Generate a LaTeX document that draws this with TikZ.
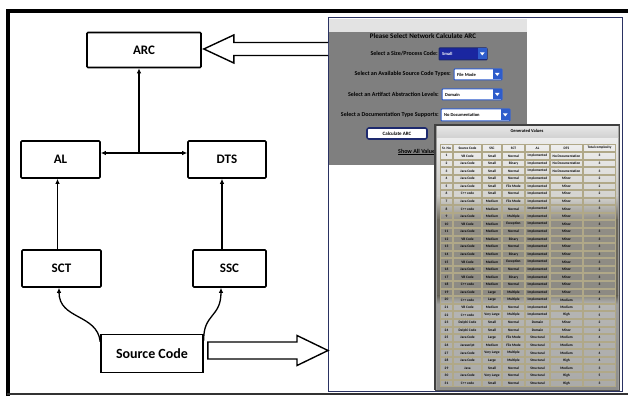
\documentclass[tikz,border=0pt]{standalone}
\usepackage{fontspec}
\setmainfont{Carlito}
\usetikzlibrary{calc,arrows.meta}

\definecolor{stripgray}{HTML}{E3E3E3}
\definecolor{formgray}{HTML}{7F7F7F}
\definecolor{navy}{HTML}{1E2A6E}
\definecolor{selblue}{HTML}{1A26A0}
\definecolor{btnblue}{HTML}{2E5CCB}
\definecolor{celledge}{HTML}{B0A888}
\definecolor{paneledge}{HTML}{2A3262}
\definecolor{tablight}{HTML}{EDEDED}
\definecolor{tabpale}{HTML}{C6C5C0}
\definecolor{tabdark}{HTML}{6D695E}
\definecolor{tabdarker}{HTML}{67645A}
\definecolor{tabmid}{HTML}{9E9E9C}
\definecolor{tablow}{HTML}{8E8E8C}

\tikzset{
  blk/.style={draw, line width=1.6pt, rounded corners=1pt, inner sep=0pt,
    font=\bfseries\fontsize{13}{13}\selectfont},
  conn/.style={line width=1.3pt, -{Latex[length=5pt,width=4.5pt]}},
  hollow/.style={draw, line width=1.4pt, fill=white, line join=miter},
  formtxt/.style={font=\bfseries\fontsize{6}{6}\selectfont, inner sep=0pt},
  dropbox/.style={draw=btnblue, line width=1pt, fill=white, rounded corners=0.8pt},
  celltxt/.style={font=\bfseries\fontsize{3.5}{3.6}\selectfont, inner sep=0pt},
  cellbox/.style={draw=celledge, line width=0.6pt, fill=white, fill opacity=0.25}
}

\begin{document}
\begin{tikzpicture}[x=1pt,y=1pt]
\useasboundingbox (0,0) rectangle (628,396);

% outer frame
\draw[line width=4pt] (7.5,0) -- (7.5,384.5) -- (628,384.5);
\draw[line width=1.6pt, black!80] (7,2) -- (628,2);

% ---------------- model blocks ----------------
\node[blk, minimum width=114pt, minimum height=35pt] (arc) at (144,346) {ARC};
\node[blk, minimum width=79pt, minimum height=37pt] (al) at (60.5,236.5) {AL};
\node[blk, minimum width=78pt, minimum height=37pt] (dts) at (227,236.5) {DTS};
\node[blk, minimum width=79pt, minimum height=37pt] (sct) at (61.5,127.5) {SCT};
\node[blk, minimum width=73pt, minimum height=37pt] (ssc) at (229.5,127.5) {SSC};
\node[blk, minimum width=102pt, minimum height=38pt, rounded corners=0pt,
      font=\bfseries\fontsize{14}{14}\selectfont] (src) at (152,42.5) {Source Code};

% connectors
\coordinate (mid) at (139,243);
\draw[line width=1.3pt, {Latex[length=5pt,width=4.5pt]}-{Latex[length=5pt,width=4.5pt]}]
  ([yshift=6.5pt]al.east) -- ([yshift=6.5pt]dts.west);
\draw[conn] (mid) -- (mid |- arc.south);
\draw[conn] ([xshift=-4pt]sct.north) -- ([xshift=-4pt]sct.north |- al.south);
\draw[conn] ([xshift=-7.5pt]ssc.north) -- ([xshift=-7.5pt]ssc.north |- dts.south);
\draw[conn] ([yshift=-8pt]src.north west) .. controls +(-3,28) and +(0,-32) .. ([xshift=-2.5pt]sct.south);
\draw[conn] ([yshift=-7pt]src.north east) .. controls +(-1,27) and +(0,-30) .. ([xshift=-8.5pt]ssc.south);

% ---------------- application window ----------------
\node[draw=paneledge, line width=1.3pt, minimum width=294pt, minimum height=374pt,
      inner sep=0pt, anchor=south west] (panel) at (328,4) {};
\fill[stripgray] (329,364) rectangle (527,377);
\fill[formgray] (329,231) rectangle (527,364);

\node[formtxt, font=\bfseries\fontsize{7}{7}\selectfont] (title) at (423,360) {Please Select Network Calculate ARC};

% form rows
\node[formtxt, anchor=east] (l1) at (438,342) {Select a Size/Process Code:};
\node[formtxt, anchor=east] (l2) at (451,322) {Select an Available Source Code Types:};
\node[formtxt, anchor=east] (l3) at (439,302) {Select an Artifact Abstraction Levels:};
\node[formtxt, anchor=east] (l4) at (439,281) {Select a Documentation Type Supports:};

\draw[dropbox, fill=selblue, draw=navy] (439,336) rectangle (487,348);
\node[formtxt, text=white, anchor=west] at (442,342) {\fontsize{4.5}{5}\selectfont Small};
\draw[dropbox] (454,316) rectangle (502,327);
\node[formtxt, anchor=west] at (457,321.5) {\fontsize{4.5}{5}\selectfont File Mode};
\draw[dropbox] (442,296) rectangle (502,307);
\node[formtxt, anchor=west] at (445,301.5) {\fontsize{4.5}{5}\selectfont Domain};
\draw[dropbox] (441,275) rectangle (510,287);
\node[formtxt, anchor=west] at (444,281) {\fontsize{4.5}{5}\selectfont No Documentation};
% drop-down buttons
\foreach \xa/\ya/\yb in {478/336.5/347.5, 493/316.5/326.5, 493/296.5/306.5, 501/275.5/286.5}{
  \fill[btnblue] (\xa,\ya) rectangle (\xa+8.5,\yb);
  \fill[white] (\xa+2,{(\ya+\yb)/2+1.5}) -- (\xa+6.5,{(\ya+\yb)/2+1.5}) -- (\xa+4.25,{(\ya+\yb)/2-1.5}) -- cycle;
}
\draw[navy, line width=1.6pt, fill=white, rounded corners=2pt] (367,257) rectangle (427,268);
\node[formtxt, font=\bfseries\fontsize{5}{5}\selectfont] at (397,262.5) {Calculate ARC};
\node[formtxt, anchor=west] (show) at (398,244.5) {Show All Values};
\draw[line width=0.6pt] (398,241.5) -- (show.east |- 0,241.5);

% ---------------- result table window ----------------
\fill[tabmid] (435,6) rectangle (620,271);
\shade[top color=tablight, bottom color=tabpale] (437,258) rectangle (618,200);
\shade[top color=tabpale, bottom color=tabdark] (437,200) rectangle (618,176);
\shade[top color=tabdark, bottom color=tabdarker] (437,176) rectangle (618,100);
\shade[top color=tabdarker, bottom color=tabmid] (437,100) rectangle (618,92);
\shade[top color=tabmid, bottom color=tablow] (437,92) rectangle (618,7);
\shade[top color=black!10, bottom color=black!18] (437,258) rectangle (618,270);
\draw[black!75, line width=1.6pt] (435,6) -- (435,271) -- (620,271);
\draw[black!70, line width=1pt] (619.5,271) -- (619.5,6) -- (435,6);
\node[celltxt, font=\bfseries\fontsize{4.5}{5}\selectfont] at (527,265) {Generated Values};

% header row
\foreach \xa/\xb/\txt in {440/453/Sr. No, 453/482/Source Code, 482/502/SSC, 502/525/SCT,
    525/550/AL, 550/583/DTS, 583/616/Total complexity}{
  \draw[cellbox] (\xa+0.5,251.5) rectangle (\xb-0.5,244.5);
  \node[celltxt] at ({(\xa+\xb)/2},248) {\txt};
}

% data rows
\foreach \n/\sc/\ssz/\sctp/\lvl/\doc/\tot [evaluate=\n as \yt using 244-(\n-1)*7.58] in {
  1/VB Code/Small/Normal/Implemented/No Documentation/3,
  2/Java Code/Small/Binary/Implemented/No Documentation/3,
  3/Java Code/Small/Normal/Implemented/No Documentation/3,
  4/Java Code/Small/Normal/Implemented/Minor/2,
  5/Java Code/Small/File Mode/Implemented/Minor/2,
  6/C++ code/Small/Normal/Implemented/Minor/2,
  7/Java Code/Medium/File Mode/Implemented/Minor/3,
  8/C++ code/Medium/Normal/Implemented/Minor/3,
  9/Java Code/Medium/Multiple/Implemented/Minor/3,
  10/VB Code/Medium/Exception/Implemented/Minor/3,
  11/Java Code/Medium/Normal/Implemented/Minor/3,
  12/VB Code/Medium/Binary/Implemented/Minor/3,
  13/Java Code/Medium/Normal/Implemented/Minor/3,
  14/Java Code/Medium/Binary/Implemented/Minor/3,
  15/VB Code/Medium/Exception/Implemented/Minor/3,
  16/Java Code/Medium/Normal/Implemented/Minor/3,
  17/VB Code/Medium/Binary/Implemented/Minor/3,
  18/C++ code/Medium/Normal/Implemented/Minor/3,
  19/Java Code/Large/Multiple/Implemented/Minor/4,
  20/C++ code/Large/Multiple/Implemented/Medium/4,
  21/VB Code/Medium/Normal/Implemented/Medium/3,
  22/C++ code/Very Large/Multiple/Implemented/High/5,
  23/Delphi Code/Small/Normal/Domain/Minor/2,
  24/Delphi Code/Small/Normal/Domain/Minor/2,
  25/Java Code/Large/File Mode/Structural/Medium/4,
  26/Javascript/Medium/File Mode/Structural/Medium/3,
  27/Java Code/Very Large/Multiple/Structural/Medium/4,
  28/Java Code/Large/Multiple/Structural/High/4,
  29/Java/Small/Normal/Structural/Medium/3,
  30/Java Code/Very Large/Normal/Structural/High/5,
  31/C++ code/Small/Normal/Structural/High/3}{
  \foreach \xa/\xb in {440/453, 453/482, 482/502, 502/525, 525/550, 550/583, 583/616}{
    \draw[cellbox] (\xa+0.5,\yt-0.5) rectangle (\xb-0.5,\yt-7.08);
  }
  \node[celltxt] at (446.5,\yt-3.79) {\n};
  \node[celltxt] at (467.5,\yt-3.79) {\sc};
  \node[celltxt] at (492,\yt-3.79) {\ssz};
  \node[celltxt] at (513.5,\yt-3.79) {\sctp};
  \node[celltxt] at (537.5,\yt-3.79) {\lvl};
  \node[celltxt] at (566.5,\yt-3.79) {\doc};
  \node[celltxt] at (599.5,\yt-3.79) {\tot};
}

% ---------------- hollow flow arrows ----------------
\draw[hollow] let \p1=(src.east), \p2=(panel.west) in
  (\x1+4pt,\y1+11.5pt) -- (\x2-31pt,\y1+11.5pt) -- (\x2-31pt,\y1+18pt) -- (\x2,\y1+3pt)
  -- (\x2-31pt,\y1-12pt) -- (\x2-31pt,\y1-5.5pt) -- (\x1+4pt,\y1-5.5pt) -- cycle;
\draw[hollow] let \p1=(arc.east), \p2=(panel.west) in
  (\x2,\y1+7.5pt) -- (\x1+32pt,\y1+7.5pt) -- (\x1+32pt,\y1+15pt) -- (\x1+2pt,\y1+1pt)
  -- (\x1+32pt,\y1-13pt) -- (\x1+32pt,\y1-5.5pt) -- (\x2,\y1-5.5pt);
\end{tikzpicture}
\end{document}
